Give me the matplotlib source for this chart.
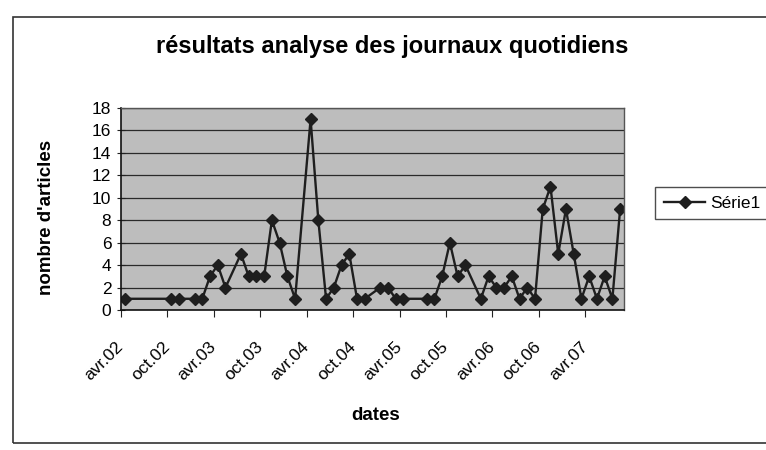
import matplotlib
matplotlib.use("Agg")
import matplotlib.pyplot as plt
from matplotlib.patches import Rectangle

plt.rcParams['font.family'] = ['Liberation Sans', 'DejaVu Sans']

# Data: month (YYYY-MM) and number of articles
months = ["2002-04", "2002-10", "2002-11", "2003-01", "2003-02", "2003-03", "2003-04",
          "2003-05", "2003-07", "2003-08", "2003-09", "2003-10", "2003-11", "2003-12",
          "2004-01", "2004-02", "2004-04", "2004-05", "2004-06", "2004-07", "2004-08",
          "2004-09", "2004-10", "2004-11", "2005-01", "2005-02", "2005-03", "2005-04",
          "2005-07", "2005-08", "2005-09", "2005-10", "2005-11", "2005-12", "2006-02",
          "2006-03", "2006-04", "2006-05", "2006-06", "2006-07", "2006-08", "2006-09",
          "2006-10", "2006-11", "2006-12", "2007-01", "2007-02", "2007-03", "2007-04",
          "2007-05", "2007-06", "2007-07", "2007-08"]
articles = [1, 1, 1, 1, 1, 3, 4,
            2, 5, 3, 3, 3, 8, 6,
            3, 1, 17, 8, 1, 2, 4,
            5, 1, 1, 2, 2, 1, 1,
            1, 1, 3, 6, 3, 4, 1,
            3, 2, 2, 3, 1, 2, 1,
            9, 11, 5, 9, 5, 1, 3,
            1, 3, 1, 9]
tick_labels = ["avr.02", "oct.02", "avr.03", "oct.03", "avr.04", "oct.04",
               "avr.05", "oct.05", "avr.06", "oct.06", "avr.07"]
series_name = "Série1"

start_year, start_month = 2002, 4
def month_index(s):
    y, m = s.split("-")
    return (int(y) - start_year) * 12 + int(m) - start_month

x = [month_index(m) for m in months]
n_months = 65

fig = plt.figure(figsize=(7.66, 4.5), dpi=100)
fig.patch.set_facecolor("white")

# chart area border
fig.patches.append(Rectangle((13/766, 1-443/450), 1.0, (443-17)/450,
                             transform=fig.transFigure, fill=False,
                             edgecolor="#333333", linewidth=1.2))

ax = fig.add_axes([121/766, 1-310/450, (624-121)/766, (310-108)/450])
ax.set_facecolor("#bdbdbd")
ax.set_axisbelow(True)
ax.grid(axis="y", color="#2a2a2a", linewidth=0.9)

ax.plot(x, articles, color="#1e1e1e", linewidth=1.7, marker="D",
        markersize=6.5, markerfacecolor="#1e1e1e", markeredgecolor="#1e1e1e",
        label=series_name)

ax.set_xlim(-0.5, n_months - 0.5)
ax.set_ylim(0, 18)
ax.set_yticks(range(0, 19, 2))
ax.set_xticks([-0.5 + 6 * i for i in range(len(tick_labels))])
ax.set_xticklabels(tick_labels, rotation=45, ha="right", va="center",
                   rotation_mode="anchor")

ax.tick_params(axis="y", direction="inout", length=6, labelsize=12.5,
               color="#222222", pad=4)
ax.tick_params(axis="x", direction="out", length=5, labelsize=12.5,
               color="#222222", pad=20)

for side in ["left", "bottom"]:
    ax.spines[side].set_color("#111111")
    ax.spines[side].set_linewidth(1.2)
for side in ["top", "right"]:
    ax.spines[side].set_color("#555555")
    ax.spines[side].set_linewidth(1.0)

fig.text(47/766, 1-217/450, "nombre d'articles", fontsize=13.5,
         fontweight="bold", rotation=90, ha="center", va="center")
fig.text(376/766, 1-415/450, "dates", fontsize=13.5, fontweight="bold",
         ha="center", va="center")

fig.text(392/766, 1-46/450, "résultats analyse des journaux quotidiens",
         fontsize=17, fontweight="bold", ha="center", va="center")

leg = ax.legend(loc="center left", bbox_to_anchor=(655/766, 1-203/450),
                bbox_transform=fig.transFigure, frameon=True, fancybox=False,
                fontsize=12.5, handlelength=2.4, borderpad=0.5,
                handletextpad=0.3, borderaxespad=0)
leg.get_frame().set_edgecolor("#222222")
leg.get_frame().set_linewidth(1.0)

fig.savefig("out.png", dpi=100)
